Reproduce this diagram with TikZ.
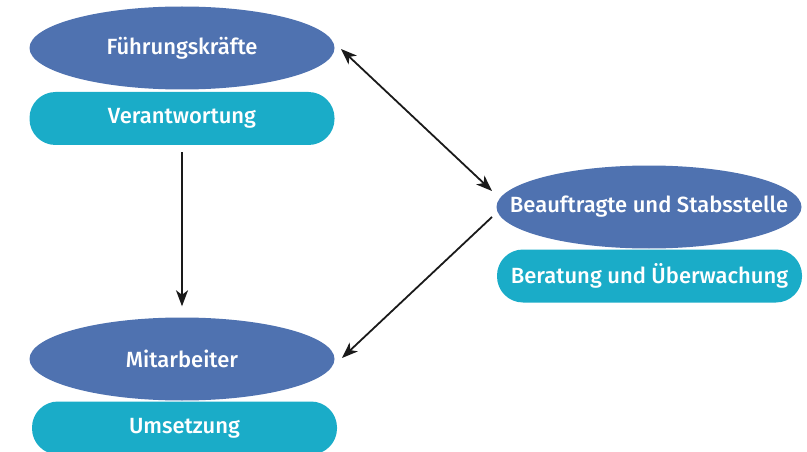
\documentclass[tikz,border=0pt]{standalone}
\usepackage{fontspec}
\setmainfont{Fira Sans}[BoldFont={* Medium}]
\usetikzlibrary{arrows.meta,shapes.geometric}
\definecolor{ellblue}{HTML}{4F72B0}
\definecolor{pillcyan}{HTML}{1AACC8}
\definecolor{linec}{HTML}{1A1A1A}
\tikzset{
  ell/.style={ellipse, fill=ellblue, text=white, minimum width=305pt, minimum height=83pt, inner xsep=-35pt, inner ysep=0pt, font=\fontsize{22}{26}\selectfont\bfseries},
  pill/.style={rounded corners=26pt, fill=pillcyan, text=white, minimum width=305pt, minimum height=53pt, inner sep=0pt, font=\fontsize{22}{26}\selectfont\bfseries},
  conn/.style={draw=linec, line width=1.8pt, -{Stealth[length=16pt,width=12pt,inset=4.5pt]}},
  dconn/.style={draw=linec, line width=1.8pt, {Stealth[length=16pt,width=12pt,inset=4.5pt]}-{Stealth[length=16pt,width=12pt,inset=4.5pt]}}
}
\begin{document}
\begin{tikzpicture}[x=1pt,y=-1pt]
\useasboundingbox (0,0) rectangle (807,452);
\node[ell] (f) at (182,48) {Führungskräfte};
\node[pill] (fv) at (182,118.5) {Verantwortung};
\node[ell] (m) at (182,359) {Mitarbeiter};
\node[pill] (mu) at (184.5,428) {Umsetzung};
\node[ell] (b) at (649,207) {Beauftragte und Stabsstelle};
\node[pill] (bb) at (649.5,276) {Beratung und Überwachung};
\coordinate (p1) at (341,49);
\coordinate (p2) at (492,191);
\coordinate (p3) at (492,217);
\coordinate (p4) at (342,358);
\draw[conn, shorten <=7pt, shorten >=11pt] (fv.south) -- (m.north);
\draw[dconn] (p1) -- (p2);
\draw[conn] (p3) -- (p4);
\end{tikzpicture}
\end{document}
